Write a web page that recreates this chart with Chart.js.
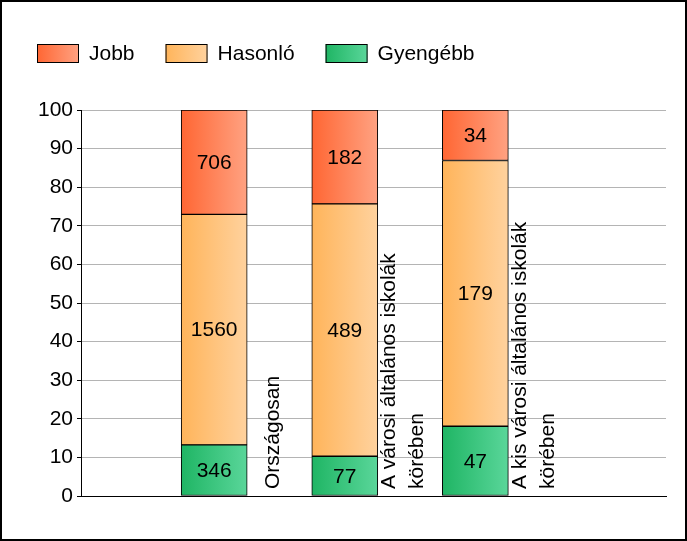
<!DOCTYPE html>
<html>
<head>
<meta charset="utf-8">
<script src="https://cdn.jsdelivr.net/npm/chart.js@4"></script>
<style>
  html, body { margin: 0; padding: 0; background: #fff; }
  #wrap { width: 687px; height: 541px; }
</style>
</head>
<body>
<div id="wrap"><canvas id="myChart"></canvas></div>
<script>
// data
const categories = [
  ['Országosan'],
  ['A városi általános iskolák', 'körében'],
  ['A kis városi általános iskolák', 'körében']
]
const catPos = [1, 2, 3]
const seriesNames = ['Gyengébb', 'Hasonló', 'Jobb']
const gyengebb = [346, 77, 47]
const hasonlo = [1560, 489, 179]
const jobb = [706, 182, 34]
const yTicks = [0, 10, 20, 30, 40, 50, 60, 70, 80, 90, 100]

const FONT = "'Liberation Sans', Arial, sans-serif"
const colors = {
  'Jobb': ['#ff6633', '#ffa282'],
  'Hasonló': ['#ffb45a', '#ffd29e'],
  'Gyengébb': ['#1fb564', '#5ad69a']
}

const counts = [gyengebb, hasonlo, jobb]
const totals = catPos.map((_, i) => gyengebb[i] + hasonlo[i] + jobb[i])

function barGradient(name) {
  return (c) => {
    const chart = c.chart
    const x = chart.scales.x
    if (!chart.chartArea || !x || c.dataIndex === undefined) return colors[name][0]
    const cx = x.getPixelForValue(catPos[c.dataIndex])
    const g = chart.ctx.createLinearGradient(cx - 33, 0, cx + 33, 0)
    g.addColorStop(0, colors[name][0])
    g.addColorStop(1, colors[name][1])
    return g
  }
}

const datasets = seriesNames.map((name, k) => ({
  label: name,
  data: catPos.map((x, i) => ({x: x, y: counts[k][i] / totals[i] * 100})),
  counts: counts[k],
  backgroundColor: barGradient(name),
  borderColor: '#000',
  borderWidth: 1,
  borderSkipped: false,
  barThickness: 66
}))

// legend, value labels, category labels and frame
const extras = {
  id: 'extras',
  afterDraw(chart) {
    const ctx = chart.ctx
    const area = chart.chartArea
    ctx.save()
    ctx.font = '21px ' + FONT
    ctx.fillStyle = '#000'

    // value labels in the middle of each segment
    ctx.textAlign = 'center'
    ctx.textBaseline = 'middle'
    chart.data.datasets.forEach((ds, k) => {
      chart.getDatasetMeta(k).data.forEach((bar, i) => {
        ctx.fillText(String(ds.counts[i]), bar.x, (bar.y + bar.base) / 2 + 1)
      })
    })

    // category labels, rotated, to the right of each bar
    ctx.textAlign = 'left'
    ctx.textBaseline = 'alphabetic'
    categories.forEach((lines, i) => {
      const cx = chart.scales.x.getPixelForValue(catPos[i]) + 57.5
      const lh = 28
      const first = cx - (lines.length - 1) * lh / 2 + 7
      lines.forEach((t, j) => {
        ctx.save()
        ctx.translate(first + j * lh, area.bottom - 7)
        ctx.rotate(-Math.PI / 2)
        ctx.fillText(t, 0, 0)
        ctx.restore()
      })
    })

    // legend
    let lx = 37
    const ly = 44
    ctx.textBaseline = 'middle'
    ;['Jobb', 'Hasonló', 'Gyengébb'].forEach(name => {
      const g = ctx.createLinearGradient(lx, 0, lx + 42, 0)
      g.addColorStop(0, colors[name][0])
      g.addColorStop(1, colors[name][1])
      ctx.fillStyle = g
      ctx.fillRect(lx, ly, 42, 19)
      ctx.strokeStyle = '#000'
      ctx.lineWidth = 1
      ctx.strokeRect(lx + 0.5, ly + 0.5, 41, 18)
      ctx.fillStyle = '#000'
      ctx.fillText(name, lx + 52, ly + 10)
      lx += 52 + ctx.measureText(name).width + 31
    })

    // outer frame
    ctx.strokeStyle = '#000'
    ctx.lineWidth = 2
    ctx.strokeRect(1, 1, chart.width - 2, chart.height - 2)
    ctx.restore()
  }
}

new Chart(document.getElementById('myChart'), {
  type: 'bar',
  data: {datasets: datasets},
  options: {
    responsive: true,
    maintainAspectRatio: false,
    animation: false,
    layout: {padding: {top: 110, right: 21, bottom: 45, left: 0}},
    plugins: {
      legend: {display: false},
      tooltip: {enabled: false}
    },
    scales: {
      x: {
        type: 'linear',
        stacked: true,
        offset: false,
        min: -0.02,
        max: 4.46,
        ticks: {display: false},
        grid: {display: false, drawTicks: false, offset: false},
        border: {display: true, color: '#000', width: 1},
        afterFit(s) { s.height = 0 }
      },
      y: {
        stacked: true,
        min: 0,
        max: 100,
        afterBuildTicks(s) { s.ticks = yTicks.map(v => ({value: v})) },
        ticks: {
          color: '#000',
          padding: 4,
          font: {family: FONT, size: 21}
        },
        grid: {color: '#b4b4b4', tickColor: '#000', tickLength: 4},
        border: {color: '#000', width: 1},
        afterFit(s) { s.width = 81 }
      }
    }
  },
  plugins: [extras]
})
</script>
</body>
</html>
